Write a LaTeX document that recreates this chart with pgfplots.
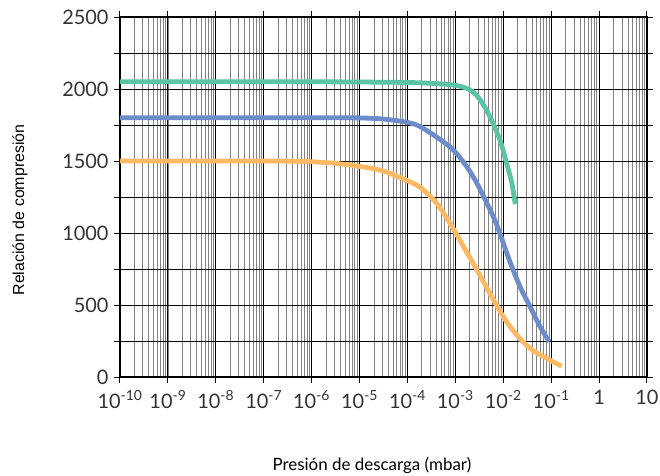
\documentclass[border=0pt]{standalone}
\usepackage{pgfplots}
\pgfplotsset{compat=1.18}
\usepackage{fontspec}
\setmainfont{Lato}
\newfontfamily\labfont{Liberation Sans}
\definecolor{cgreen}{RGB}{92,196,166}
\definecolor{cblue}{RGB}{108,140,202}
\definecolor{corange}{RGB}{253,185,99}
\definecolor{mgrid}{RGB}{130,130,130}
\begin{document}
\begin{tikzpicture}
\begin{axis}[
  scale only axis, width=527bp, height=360bp,
  at={(0,0)}, anchor=south west,
  xmode=log, xmin=1e-10, xmax=10,
  ymin=0, ymax=2500,
  xtick={1e-10,1e-9,1e-8,1e-7,1e-6,1e-5,1e-4,1e-3,1e-2,1e-1,1,10},
  xticklabels={10\textsuperscript{-10},10\textsuperscript{-9},10\textsuperscript{-8},10\textsuperscript{-7},10\textsuperscript{-6},10\textsuperscript{-5},10\textsuperscript{-4},10\textsuperscript{-3},10\textsuperscript{-2},10\textsuperscript{-1},1,10},
  ytick={0,250,...,2500},
  yticklabels={0,,500,,1000,,1500,,2000,,2500},
  tick align=outside,
  major tick length=6bp, minor tick length=0pt,
  tick style={black, line width=1bp},
  grid=both,
  major grid style={black, line width=0.9bp},
  minor grid style={mgrid, line width=0.8bp},
  axis line style={black, line width=1.3bp},
  ticklabel style={font=\fontsize{20}{24}\selectfont, text=black!80},
  /pgf/number format/assume math mode=true,
  xticklabel style={yshift=-4bp},
  yticklabel style={xshift=-2bp},
  ylabel={Relación de compresión},
  ylabel style={font=\labfont\fontsize{16}{19}\selectfont, at={(axis description cs:0,0.464)}, anchor=center, yshift=100bp},
  xlabel={Presión de descarga (mbar)},
  xlabel style={font=\fontsize{17}{20}\selectfont, at={(axis description cs:0.478,0)}, anchor=base, yshift=-93bp},
  every axis plot/.append style={line width=4.8bp, smooth, no markers},
]
\addplot[cgreen] coordinates {
 (1e-10,2050) (1e-6,2050) (3.162e-5,2047) (1.820e-4,2043) (9.120e-4,2028)
 (2.042e-3,1993) (3.311e-3,1924) (5.248e-3,1808) (8.511e-3,1646)
 (1.175e-2,1484) (1.514e-2,1345) (1.778e-2,1200)
};
\addplot[cblue] coordinates {
 (1e-10,1800) (3.162e-6,1800) (1.585e-5,1797) (3.981e-5,1788) (1e-4,1768)
 (1.820e-4,1740) (4.786e-4,1650) (9.120e-4,1576) (1.738e-3,1460)
 (2.818e-3,1345) (4.571e-3,1206) (7.244e-3,1060) (1.380e-2,800)
 (2.239e-2,627) (3.631e-2,488) (5.888e-2,349) (9.120e-2,245)
};
\addplot[corange] coordinates {
 (1e-10,1500) (1e-7,1500) (6.31e-7,1497) (2.512e-6,1487) (6.31e-6,1472)
 (1.585e-5,1452) (3.162e-5,1430) (7.943e-5,1378) (1.820e-4,1318)
 (4.074e-4,1206) (8.318e-4,1050) (1.479e-3,905) (2.818e-3,743)
 (5.248e-3,581) (1e-2,419) (1.905e-2,292) (3.631e-2,199)
 (6.918e-2,141) (0.166,75)
};
\end{axis}
\pgfresetboundingbox
\useasboundingbox (-120bp,-99bp) rectangle (540bp,377bp);
\end{tikzpicture}
\end{document}
